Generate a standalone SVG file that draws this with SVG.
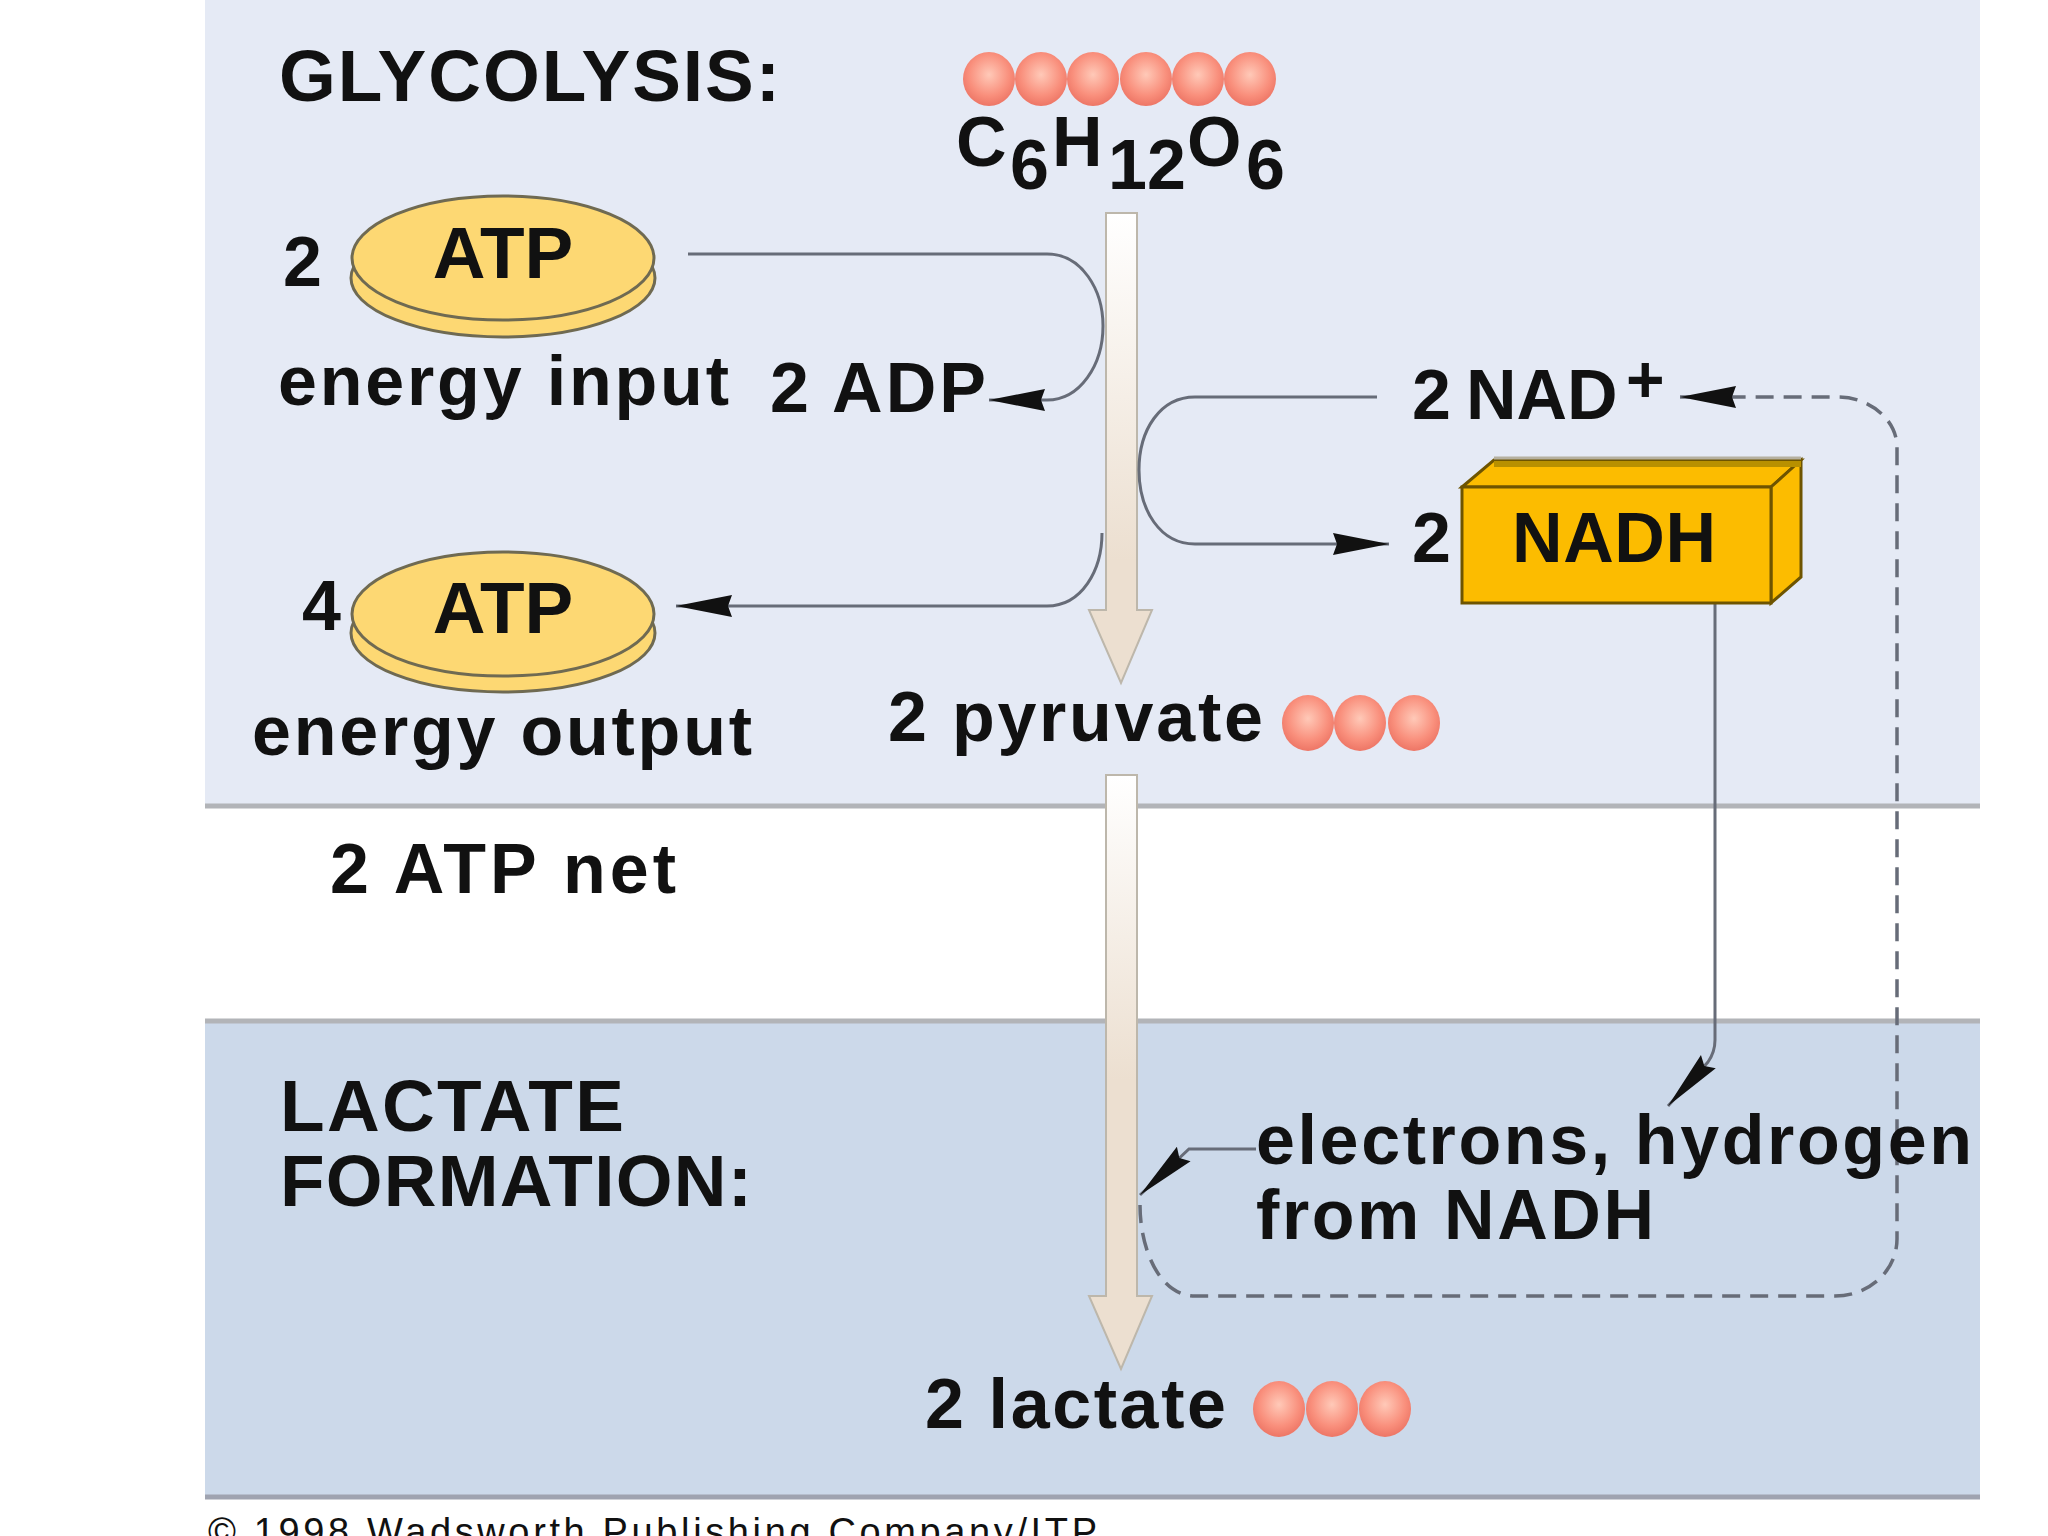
<svg xmlns="http://www.w3.org/2000/svg" width="2048" height="1536" viewBox="0 0 2048 1536">
<style>
text{font-family:"Liberation Sans",Arial,sans-serif;font-size:70px;font-weight:700;fill:#111}
.title{font-size:73px}
.atp{font-size:73px}
.rule{stroke:#b2b4b8;stroke-width:5}
.thin{fill:none;stroke:#676c78;stroke-width:3}
.dash{stroke-dasharray:18 10;stroke-width:3.5}
.shaft{stroke:#bdb7ab;stroke-width:2}
.disc{fill:#fdd873;stroke:#6f6a52;stroke-width:3}
.atom{fill:url(#atom)}
.boxe{stroke:#6e5400;stroke-width:3;fill:#fcbc00}
</style>
<defs>
<radialGradient id="atom" cx="0.5" cy="0.42" r="0.6"><stop offset="0" stop-color="#ffc9b8"/><stop offset="0.65" stop-color="#f98f7c"/><stop offset="1" stop-color="#ec7363"/></radialGradient>
<linearGradient id="shaft1" gradientUnits="userSpaceOnUse" x1="0" y1="213" x2="0" y2="560"><stop offset="0" stop-color="#ffffff"/><stop offset="1" stop-color="#ecdfd0"/></linearGradient>
<linearGradient id="shaft2" gradientUnits="userSpaceOnUse" x1="0" y1="775" x2="0" y2="1080"><stop offset="0" stop-color="#ffffff"/><stop offset="1" stop-color="#ecdfd0"/></linearGradient>
<marker id="head" markerUnits="userSpaceOnUse" markerWidth="60" markerHeight="26" viewBox="0 0 60 26" refX="58" refY="13" orient="auto"><path d="M2 2 L58 13 L2 24 L6 13 Z" fill="#111"/></marker>
<marker id="headn" markerUnits="userSpaceOnUse" markerWidth="64" markerHeight="24" viewBox="0 0 64 24" refX="62" refY="12" orient="auto"><path d="M2 2 L62 12 L2 22 L8 12 Z" fill="#111"/></marker>
</defs>
<rect width="2048" height="1536" fill="#fff"/>
<g id="panels">
<rect x="205" y="0" width="1775" height="806" fill="#e5eaf5"/>
<rect x="205" y="1021" width="1775" height="476" fill="#ccd9ea"/>
<line class="rule" x1="205" y1="806" x2="1980" y2="806"/>
<line class="rule" x1="205" y1="1021" x2="1980" y2="1021"/>
<line class="rule" x1="205" y1="1497" x2="1980" y2="1497" style="stroke:#9fa3b0"/>
</g>
<g id="connectors">
<path class="shaft" fill="url(#shaft1)" d="M1106 213H1137V610H1152L1121 683L1089 610H1106Z"/>
<path class="shaft" fill="url(#shaft2)" d="M1106 775H1137V1296H1152L1121 1369L1089 1296H1106Z"/>
<path class="thin" marker-end="url(#head)" d="M688 254H1047C1082 254 1103 290 1103 326C1103 365 1080 400 1047 400H989"/>
<path class="thin" marker-end="url(#head)" d="M1102 533C1102 570 1082 606 1047 606H676"/>
<path class="thin" marker-end="url(#head)" d="M1377 397H1195C1160 397 1139 430 1139 470C1139 510 1160 544 1195 544H1389"/>
<path class="thin" marker-end="url(#headn)" d="M1715 603V1040Q1715 1052 1708 1062L1668 1106"/>
<path class="thin" marker-end="url(#headn)" d="M1256 1149H1189L1140 1195"/>
<path class="thin dash" marker-end="url(#head)" d="M1140 1205C1140 1250 1160 1296 1195 1296H1835C1870 1296 1897 1270 1897 1239V447C1897 420 1870 397 1838 397H1680"/>
</g>
<g id="title-glycolysis"><text class="title" x="279" y="101" textLength="501">GLYCOLYSIS:</text></g>
<g id="glucose">
<ellipse class="atom" cx="989" cy="79" rx="26" ry="27"/><ellipse class="atom" cx="1041" cy="79" rx="26" ry="27"/><ellipse class="atom" cx="1093" cy="79" rx="26" ry="27"/><ellipse class="atom" cx="1146" cy="79" rx="26" ry="27"/><ellipse class="atom" cx="1198" cy="79" rx="26" ry="27"/><ellipse class="atom" cx="1250" cy="79" rx="26" ry="27"/>
<text y="166"><tspan x="956">C</tspan><tspan x="1010" y="189">6</tspan><tspan x="1052" y="166">H</tspan><tspan x="1108" y="189">1</tspan><tspan x="1147">2</tspan><tspan x="1187" y="166">O</tspan><tspan x="1246" y="189">6</tspan></text>
</g>
<g id="atp-input">
<ellipse class="disc" cx="503" cy="278" rx="152" ry="59"/><ellipse class="disc" cx="503" cy="258" rx="151" ry="62"/>
<text x="283" y="286">2</text><text class="atp" x="503" y="278" text-anchor="middle">ATP</text>
<text x="278" y="405" textLength="451">energy input</text>
</g>
<g id="adp"><text x="770" y="412" textLength="216">2 ADP</text></g>
<g id="atp-output">
<ellipse class="disc" cx="503" cy="633" rx="152" ry="59"/><ellipse class="disc" cx="503" cy="614" rx="151" ry="62"/>
<text x="302" y="630">4</text><text class="atp" x="503" y="633" text-anchor="middle">ATP</text>
<text x="252" y="755" textLength="500">energy output</text>
</g>
<g id="pyruvate">
<text x="888" y="741" textLength="375">2 pyruvate</text>
<ellipse class="atom" cx="1308" cy="723" rx="26" ry="28"/><ellipse class="atom" cx="1360" cy="723" rx="26" ry="28"/><ellipse class="atom" cx="1414" cy="723" rx="26" ry="28"/>
</g>
<g id="net"><text x="330" y="893" textLength="346">2 ATP net</text></g>
<g id="nad"><text y="419"><tspan x="1412">2 </tspan><tspan x="1466">NAD</tspan><tspan x="1626" y="402" font-size="66">+</tspan></text></g>
<g id="nadh">
<path class="boxe" d="M1462 487L1494 460H1801L1771 487Z"/>
<path class="boxe" d="M1771 487L1801 460V577L1771 603Z"/>
<rect class="boxe" x="1462" y="487" width="309" height="116"/>
<path d="M1494 464H1801" stroke="#b89000" stroke-width="6"/>
<path d="M1494 458H1801" stroke="#b5b0a0" stroke-width="3"/>
<text x="1412" y="562">2</text>
<text x="1512" y="562" textLength="204">NADH</text>
</g>
<g id="title-lactate"><text class="title" x="280" y="1131" textLength="344">LACTATE</text><text class="title" x="280" y="1206" textLength="472">FORMATION:</text></g>
<g id="electrons"><text x="1256" y="1164" textLength="716">electrons, hydrogen</text><text x="1256" y="1239" textLength="398">from NADH</text></g>
<g id="lactate">
<text x="925" y="1428" textLength="301">2 lactate</text>
<ellipse class="atom" cx="1279" cy="1409" rx="26" ry="28"/><ellipse class="atom" cx="1332" cy="1409" rx="26" ry="28"/><ellipse class="atom" cx="1385" cy="1409" rx="26" ry="28"/>
</g>
<g id="credit"><text x="208" y="1545" textLength="889" style="font-size:38px;font-weight:400">© 1998 Wadsworth Publishing Company/ITP</text></g>
</svg>
